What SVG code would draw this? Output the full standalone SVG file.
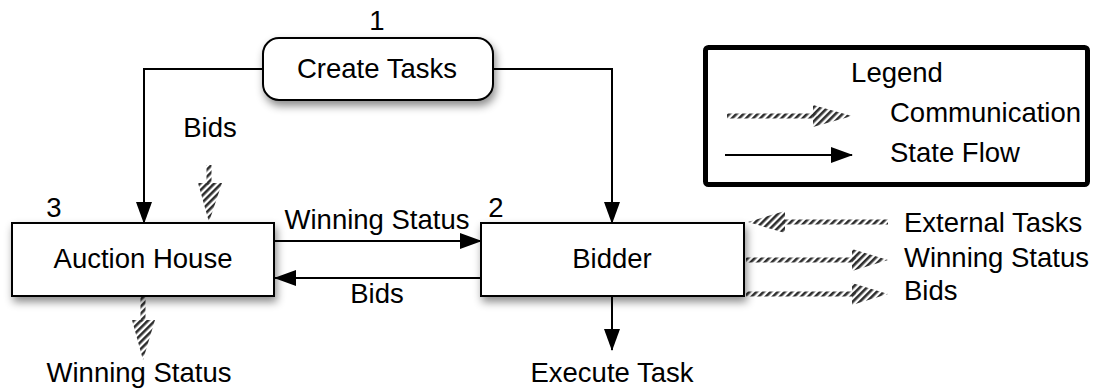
<svg xmlns="http://www.w3.org/2000/svg" width="1100" height="391" viewBox="0 0 1100 391">
  <style>
    text { font-family: "Liberation Sans", Arial, sans-serif; font-size: 27.5px; fill: #000; }
    .mid { text-anchor: middle; }
    .box { fill: #fff; stroke: #000; stroke-width: 2; filter: url(#shadow); }
    .flow { fill: none; stroke: #000; stroke-width: 2; marker-end: url(#head); }
    .comm { fill: url(#hatch); }
  </style>
  <defs>
    <filter id="shadow" x="-20%" y="-30%" width="140%" height="170%">
      <feDropShadow dx="2" dy="5" stdDeviation="4" flood-color="#000" flood-opacity="0.45"/>
    </filter>
    <pattern id="hatch" patternUnits="userSpaceOnUse" width="5" height="5" patternTransform="rotate(45)">
      <rect x="0" y="0" width="2.6" height="5" fill="#2e2e2e"/>
    </pattern>
    <marker id="head" markerUnits="userSpaceOnUse" markerWidth="22" markerHeight="16" refX="21" refY="8" orient="auto">
      <path d="M0,0 L22,8 L0,16 Z" fill="#000"/>
    </marker>
  </defs>

  <!-- state flow connectors -->
  <g id="connectors">
    <polyline class="flow" points="263,69 144,69 144,223"/>
    <polyline class="flow" points="493,69 612,69 612,223"/>
    <line class="flow" x1="275" y1="241" x2="481" y2="241"/>
    <line class="flow" x1="481" y1="278" x2="275" y2="278"/>
    <line class="flow" x1="612" y1="296" x2="612" y2="350"/>

    <!-- communication arrows -->
    <g id="comm-bids-in">
      <rect class="comm" x="206.5" y="165" width="5" height="20"/>
      <polygon class="comm" points="198,183 222,183 209,222"/>
    </g>
    <g id="comm-status-out">
      <rect class="comm" x="140.5" y="296" width="5" height="26"/>
      <polygon class="comm" points="132,320 155,320 143,360"/>
    </g>
    <g id="comm-external">
      <rect class="comm" x="782" y="219.5" width="106" height="5"/>
      <polygon class="comm" points="785,211 748,222 785,233"/>
    </g>
    <g id="comm-status">
      <rect class="comm" x="746" y="257.5" width="110" height="5"/>
      <polygon class="comm" points="852,249 888,260 852,271"/>
    </g>
    <g id="comm-bids">
      <rect class="comm" x="746" y="291.5" width="110" height="5"/>
      <polygon class="comm" points="852,283 888,294 852,305"/>
    </g>
  </g>

  <g id="create-tasks">
    <rect class="box" x="263" y="38" width="230" height="62" rx="16" ry="16"/>
    <text class="mid" x="377" y="78">Create Tasks</text>
    <text class="mid" x="377" y="30">1</text>
  </g>

  <g id="auction-house">
    <rect class="box" x="12" y="223" width="262" height="73"/>
    <text class="mid" x="143" y="268">Auction House</text>
    <text class="mid" x="54" y="217">3</text>
  </g>

  <g id="bidder">
    <rect class="box" x="481" y="223" width="263" height="73"/>
    <text class="mid" x="612" y="268">Bidder</text>
    <text class="mid" x="496" y="217">2</text>
  </g>

  <!-- connector labels -->
  <g id="labels">
    <text class="mid" x="377" y="229">Winning Status</text>
    <text class="mid" x="377" y="303">Bids</text>
    <text class="mid" x="210" y="137">Bids</text>
    <text class="mid" x="139" y="382">Winning Status</text>
    <text class="mid" x="612" y="382">Execute Task</text>
    <text x="904" y="232">External Tasks</text>
    <text x="904" y="267">Winning Status</text>
    <text x="904" y="300">Bids</text>
  </g>

  <g id="legend">
    <rect x="705.5" y="47.5" width="382" height="137" rx="3" fill="#fff" stroke="#000" stroke-width="5"/>
    <text class="mid" x="897" y="82">Legend</text>
    <rect class="comm" x="727" y="113.5" width="90" height="5"/>
    <polygon class="comm" points="813,105 852,116 813,127"/>
    <text x="890" y="122">Communication</text>
    <line class="flow" x1="725" y1="155" x2="852" y2="155"/>
    <text x="890" y="162">State Flow</text>
  </g>
</svg>
